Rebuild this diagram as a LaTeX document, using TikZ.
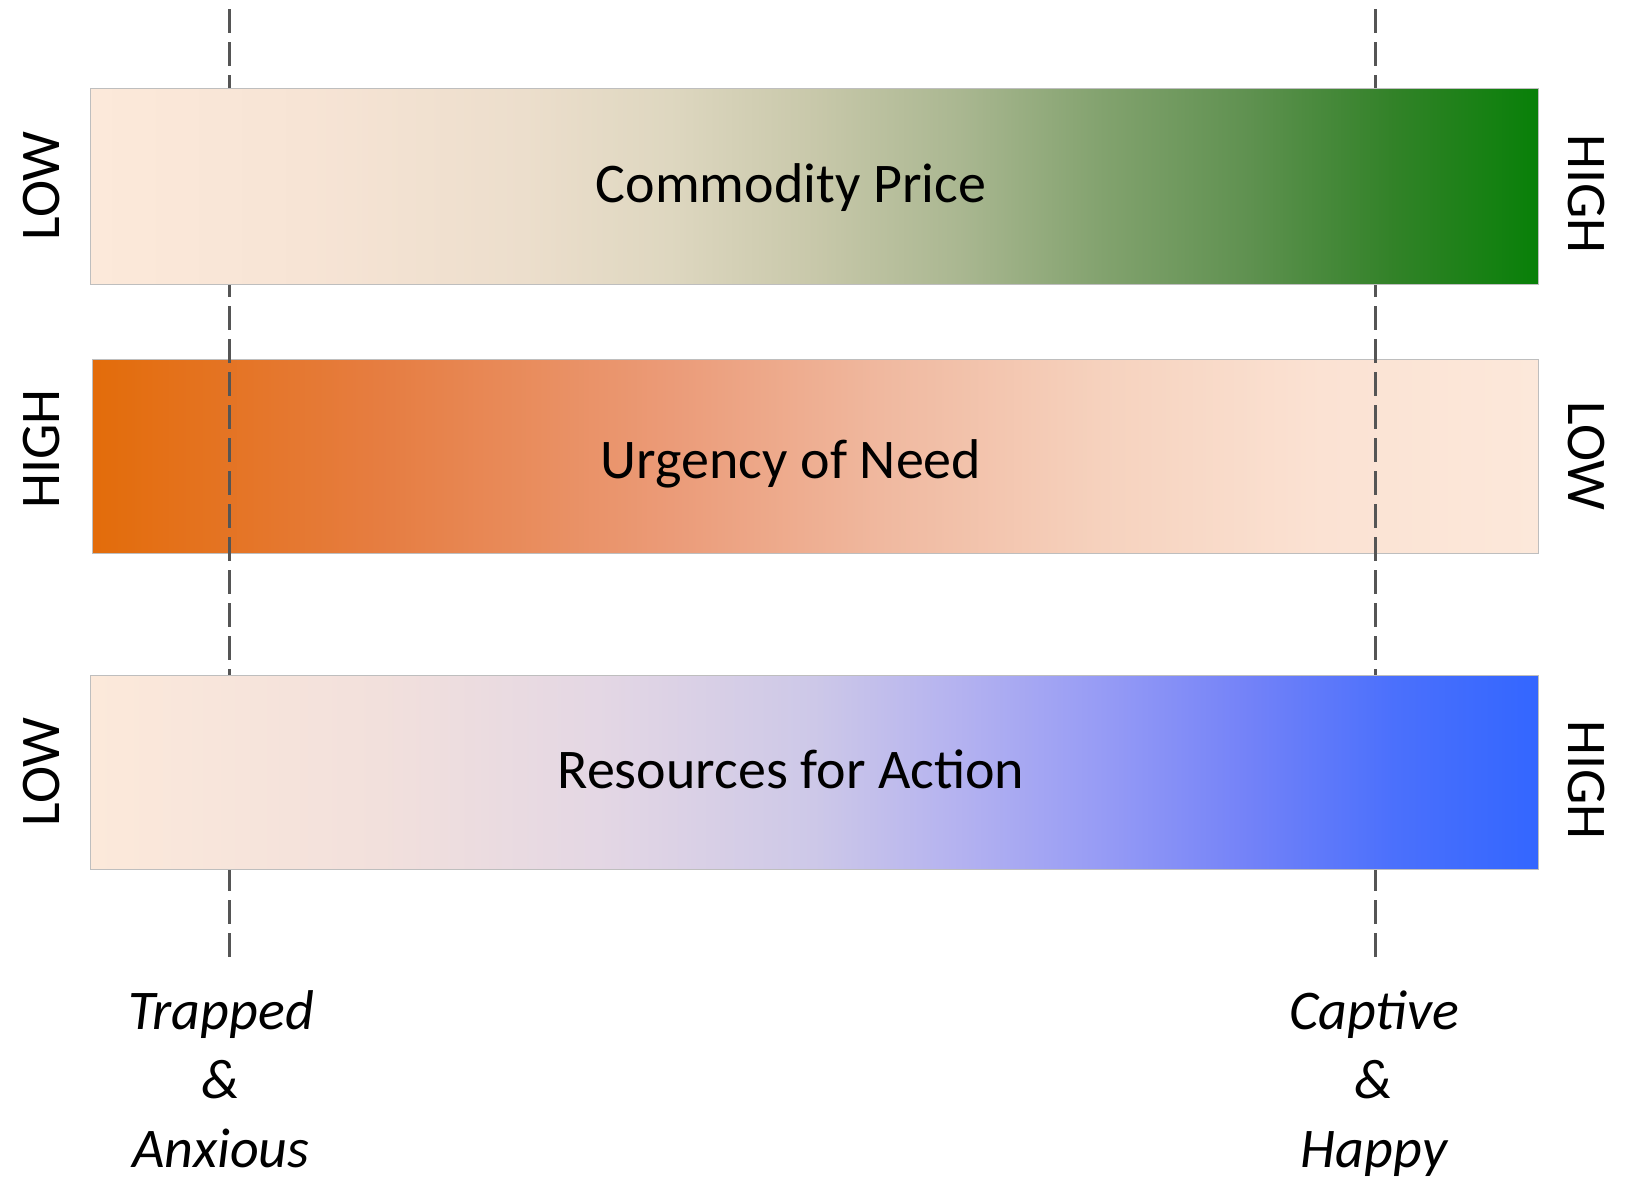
\documentclass[tikz,border=0pt]{standalone}
\usepackage{fontspec}
\setmainfont{Carlito}
\definecolor{aA}{RGB}{252,233,218}
\definecolor{aB}{RGB}{247,228,213}
\definecolor{aC}{RGB}{236,222,204}
\definecolor{aD}{RGB}{222,215,192}
\definecolor{aE}{RGB}{200,200,170}
\definecolor{aF}{RGB}{170,183,145}
\definecolor{aG}{RGB}{130,162,110}
\definecolor{aH}{RGB}{95,145,80}
\definecolor{aI}{RGB}{50,130,40}
\definecolor{aJ}{RGB}{8,128,8}
\definecolor{bA}{RGB}{227,108,10}
\definecolor{bB}{RGB}{230,125,65}
\definecolor{bC}{RGB}{235,155,120}
\definecolor{bD}{RGB}{240,185,160}
\definecolor{bE}{RGB}{246,210,190}
\definecolor{bF}{RGB}{251,226,211}
\definecolor{bG}{RGB}{252,232,218}
\definecolor{cA}{RGB}{252,233,218}
\definecolor{cB}{RGB}{242,224,220}
\definecolor{cC}{RGB}{228,215,228}
\definecolor{cD}{RGB}{205,200,232}
\definecolor{cE}{RGB}{180,178,240}
\definecolor{cF}{RGB}{150,155,245}
\definecolor{cG}{RGB}{115,130,248}
\definecolor{cH}{RGB}{75,112,252}
\definecolor{cI}{RGB}{51,102,255}
\definecolor{dashgray}{RGB}{85,85,85}
\definecolor{bordergray}{RGB}{190,190,190}
\pgfdeclarehorizontalshading{shadeA}{100bp}{color(0bp)=(aA); color(25bp)=(aA); color(32.5bp)=(aB); color(40bp)=(aC); color(45bp)=(aD); color(50bp)=(aE); color(55bp)=(aF); color(60bp)=(aG); color(65bp)=(aH); color(70bp)=(aI); color(75bp)=(aJ); color(100bp)=(aJ)}
\pgfdeclarehorizontalshading{shadeB}{100bp}{color(0bp)=(bA); color(25bp)=(bA); color(35bp)=(bB); color(45bp)=(bC); color(52.5bp)=(bD); color(60bp)=(bE); color(67.5bp)=(bF); color(75bp)=(bG); color(100bp)=(bG)}
\pgfdeclarehorizontalshading{shadeC}{100bp}{color(0bp)=(cA); color(25bp)=(cA); color(35bp)=(cB); color(42.5bp)=(cC); color(50bp)=(cD); color(55bp)=(cE); color(60bp)=(cF); color(65bp)=(cG); color(70bp)=(cH); color(75bp)=(cI); color(100bp)=(cI)}
\tikzset{
  barbox/.style={draw=bordergray, line width=1pt, inner sep=0pt, minimum width=1448pt},
  bartext/.style={font=\fontsize{56}{67}\selectfont, anchor=base, inner sep=0pt},
  sidetext/.style={font=\fontsize{56}{67}\selectfont, inner sep=0pt},
  guide/.style={dashgray, line width=3pt, dash pattern=on 24pt off 9pt},
  endtext/.style={font=\fontsize{56}{69}\selectfont\itshape, align=center, anchor=base, inner sep=0pt}
}
\begin{document}
\begin{tikzpicture}[x=1pt,y=-1pt]
\useasboundingbox (0,0) rectangle (1635,1179);
\fill[white] (0,0) rectangle (1635,1179);
% middle bar (under the guides)
\node[barbox, shading=shadeB, minimum width=1446pt, minimum height=194pt] (b2) at (815,456) {};
% guides
\coordinate (g1t) at (229,9);
\coordinate (g1b) at (229,965);
\coordinate (g2t) at (1375,9);
\coordinate (g2b) at (1375,965);
\draw[guide] (g1t) -- (g1b);
\draw[guide] (g2t) -- (g2b);
% top and bottom bars (over the guides)
\node[barbox, shading=shadeA, minimum height=196pt] (b1) at (814,186) {};
\node[barbox, shading=shadeC, minimum height=194pt] (b3) at (814,772) {};
% bar texts
\node[bartext] (t1) at (791,202) {Commodity Price};
\node[bartext] (t2) at (791,478) {Urgency of Need};
\node[bartext] (t3) at (791,788) {Resources for Action};
% side labels
\node[sidetext, rotate=90] (l1) at (42,186) {LOW};
\node[sidetext, rotate=90] (l2) at (42,449) {HIGH};
\node[sidetext, rotate=90] (l3) at (42,772) {LOW};
\node[sidetext, rotate=-90] (r1) at (1586,194) {HIGH};
\node[sidetext, rotate=-90] (r2) at (1586,456) {LOW};
\node[sidetext, rotate=-90] (r3) at (1586,780) {HIGH};
% bottom labels
\node[endtext] (e1) at (221,1167) {Trapped\\\&\\Anxious};
\node[endtext] (e2) at (1374,1167) {Captive\\\&\\Happy};
\end{tikzpicture}
\end{document}
